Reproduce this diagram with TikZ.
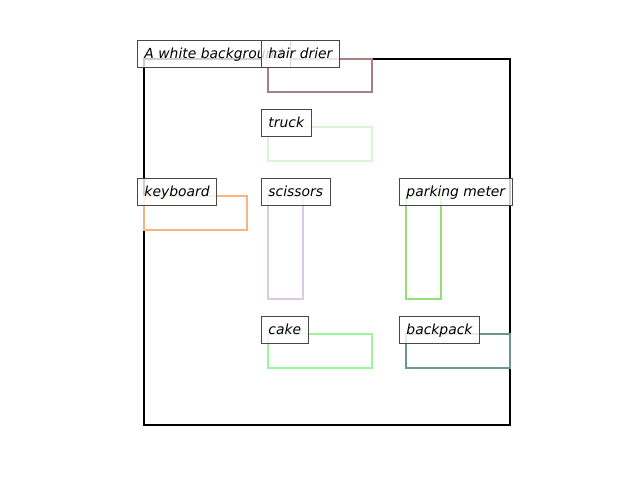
\documentclass[tikz,border=0pt]{standalone}
\usepackage{fontspec}
\setmainfont{DejaVu Sans}
\definecolor{DrierBrown}{HTML}{A98080}
\definecolor{TruckGreen}{HTML}{DAF4DA}
\definecolor{KeyOrange}{HTML}{F8B480}
\definecolor{ScissorLilac}{HTML}{DDCAE2}
\definecolor{MeterGreen}{HTML}{93E07A}
\definecolor{CakeGreen}{HTML}{9AF79A}
\definecolor{PackTeal}{HTML}{6C9595}
\tikzset{
  x=0.72pt, y=-0.72pt,
  frame/.style={draw=black, line width=1.6pt},
  bbox/.style={line width=1.6pt},
  tag/.style={anchor=north west, draw=black!72, line width=0.75pt,
              fill=white, fill opacity=0.8, text opacity=1,
              inner xsep=5pt, inner ysep=5pt, text height=8.1pt,
              text depth=1.3pt, font=\itshape\fontsize{10}{12}\selectfont}
}
\begin{document}
\begin{tikzpicture}
  \useasboundingbox (0,0) rectangle (640,480);

  % image frame and boxes
  \draw[frame] (144,59) rectangle (510,425);
  \draw[bbox, DrierBrown] (268,59) rectangle (372,92);
  \draw[bbox, TruckGreen] (268,127) rectangle (372,161);
  \draw[bbox, KeyOrange] (144,196) rectangle (247,230);
  \draw[bbox, ScissorLilac] (268,196) rectangle (303,299);
  \draw[bbox, MeterGreen] (406,196) rectangle (441,299);
  \draw[bbox, CakeGreen] (268,334) rectangle (372,368);
  \draw[bbox, PackTeal] (406,334) rectangle (510,368);

  % labels
  \node[tag] (background) at (137,40) {A white background};
  \node[tag] (hairdrier) at (261,40) {hair drier};
  \node[tag] (truck) at (261,109) {truck};
  \node[tag] (keyboard) at (137,178) {keyboard};
  \node[tag] (scissors) at (261,178) {scissors};
  \node[tag] (parkingmeter) at (399,178) {parking meter};
  \node[tag] (cake) at (261,316) {cake};
  \node[tag] (backpack) at (399,316) {backpack};
\end{tikzpicture}
\end{document}
